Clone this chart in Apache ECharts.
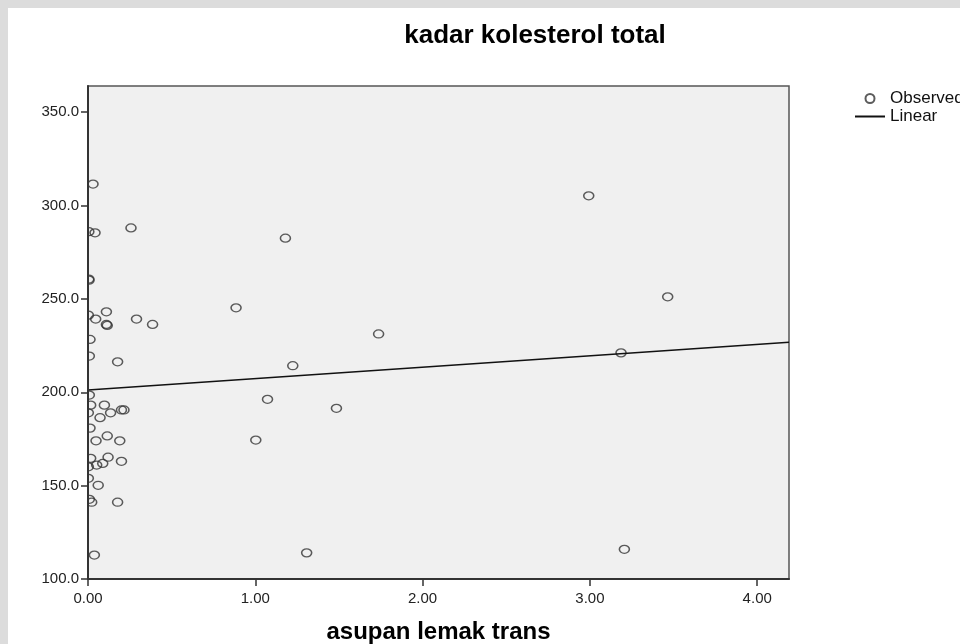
<!DOCTYPE html>
<html>
<head>
<meta charset="utf-8">
<script src="https://cdn.jsdelivr.net/npm/echarts@6/dist/echarts.min.js"></script>
<style>
html,body{margin:0;padding:0;background:#dcdcdc;}
#paper{position:absolute;left:8px;top:8px;width:952px;height:636px;background:#ffffff;}
#chart{position:absolute;left:0;top:0;width:960px;height:644px;}
</style>
</head>
<body>
<div id="paper"></div>
<div id="chart"></div>
<script>
// ---- data ----
const chartTitle = 'kadar kolesterol total';
const xAxisName = 'asupan lemak trans';
const seriesNames = ['Observed', 'Linear'];

// asupan lemak trans (x) and kadar kolesterol total (y) per observation
const obsX = [
  0.030, 0.005, 0.042, 0.257, 0.005, 0.006, 1.180, 2.993, 3.465, 3.186,
  3.206, 0.885, 1.737, 1.224, 1.073, 1.485, 1.003, 1.307,
  0.002, 0.046, 0.110, 0.110, 0.115, 0.290, 0.386, 0.012, 0.008, 0.177,
  0.008, 0.016, 0.098, 0.135, 0.200, 0.215, 0.072, 0.002, 0.012, 0.048,
  0.115, 0.190, 0.016, 0.120, 0.052, 0.088, 0.200, 0.002, 0.002, 0.061,
  0.008, 0.022, 0.177, 0.038
];
const obsY = [
  311.5, 286.0, 285.4, 288.0, 260.6, 260.0, 282.5, 305.2, 251.1, 221.1,
  115.9, 245.2, 231.2, 214.2, 196.2, 191.4, 174.4, 114.0,
  241.3, 239.2, 243.1, 236.3, 235.8, 239.2, 236.3, 228.3, 219.4, 216.3,
  198.5, 193.1, 193.1, 189.0, 190.5, 190.5, 186.4, 189.0, 180.8, 174.0,
  176.6, 174.0, 164.6, 165.2, 161.0, 161.9, 163.0, 160.1, 153.9, 150.2,
  142.7, 141.1, 141.1, 112.8
];

// linear fit
const fitIntercept = 201.2;
const fitSlope = 6.1;

// axes
const xMin = 0, xMax = 4.19;
const yMin = 100, yMax = 364;
const xTicks = [0, 1, 2, 3, 4];
const yTicks = [100, 150, 200, 250, 300, 350];

// ---- build ----
const scatterData = obsX.map((x, i) => [x, obsY[i]]);
const lineData = [[xMin, fitIntercept + fitSlope * xMin], [xMax, fitIntercept + fitSlope * xMax]];

const chart = echarts.init(document.getElementById('chart'), null, {renderer: 'canvas'});
const FONT = '"Liberation Sans", Arial, sans-serif';

chart.setOption({
  backgroundColor: 'transparent',
  animation: false,
  title: {
    text: chartTitle,
    left: 530,
    textAlign: 'center',
    top: 18,
    textStyle: {fontFamily: FONT, fontSize: 26, fontWeight: 'bold', color: '#000'}
  },
  legend: {
    orient: 'vertical',
    left: 849,
    top: 85,
    itemWidth: 30,
    itemHeight: 9,
    itemGap: 1,
    data: [
      {name: seriesNames[0]},
      {name: seriesNames[1], itemStyle: {opacity: 0}}
    ],
    textStyle: {fontFamily: FONT, fontSize: 17, lineHeight: 17, color: '#111'}
  },
  grid: {
    left: 88, right: 171, top: 86, bottom: 65,
    outerBoundsMode: 'none',
    containLabel: false,
    show: true,
    backgroundColor: '#f0f0f0',
    borderColor: '#555',
    borderWidth: 1.5
  },
  xAxis: {
    type: 'value',
    min: xMin, max: xMax,
    z: 10,
    name: xAxisName,
    nameLocation: 'middle',
    nameGap: 41,
    nameTextStyle: {fontFamily: FONT, fontSize: 24, fontWeight: 'bold', color: '#000'},
    axisLine: {show: true, onZero: false, lineStyle: {color: '#333', width: 2}},
    axisTick: {show: true, length: 7, customValues: xTicks, lineStyle: {color: '#333', width: 1.5}},
    axisLabel: {
      customValues: xTicks, margin: 12,
      fontFamily: FONT, fontSize: 15, color: '#222',
      formatter: v => v.toFixed(2)
    },
    splitLine: {show: false}
  },
  yAxis: {
    type: 'value',
    min: yMin, max: yMax,
    z: 10,
    axisLine: {show: true, onZero: false, lineStyle: {color: '#333', width: 2}},
    axisTick: {show: true, length: 7, customValues: yTicks, lineStyle: {color: '#333', width: 1.5}},
    axisLabel: {
      customValues: yTicks, margin: 9,
      fontFamily: FONT, fontSize: 15, color: '#222',
      formatter: v => v.toFixed(1)
    },
    splitLine: {show: false}
  },
  graphic: [{
    type: 'rect', z: 5, silent: true,
    shape: {x: 20, y: 80, width: 67, height: 505},
    style: {fill: '#ffffff'}
  }],
  series: [
    {
      name: seriesNames[0],
      type: 'scatter',
      symbol: 'circle',
      symbolSize: [10, 8],
      z: 3,
      itemStyle: {color: 'rgba(0,0,0,0)', borderColor: '#333', borderWidth: 1.4},
      data: scatterData
    },
    {
      name: seriesNames[1],
      type: 'line',
      symbol: 'none',
      z: 4,
      itemStyle: {color: 'rgba(0,0,0,0)'},
      lineStyle: {color: '#111', width: 1.6},
      data: lineData
    }
  ]
});
</script>
</body>
</html>
